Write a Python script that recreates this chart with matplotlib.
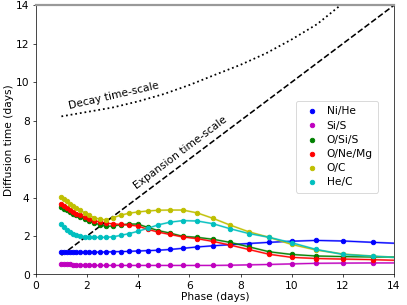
import matplotlib
matplotlib.use("Agg")
import matplotlib.pyplot as plt

# phase grid (days)
phase = [1.0, 1.1, 1.2, 1.32, 1.45, 1.58, 1.74, 1.91, 2.09, 2.29, 2.51, 2.75,
         3.02, 3.31, 3.63, 3.98, 4.37, 4.79, 5.25, 5.75, 6.31, 6.92, 7.59,
         8.32, 9.12, 10.0, 10.96, 12.02, 13.18]

# diffusion times (days) per zone
ni_he = [1.15, 1.15, 1.15, 1.15, 1.15, 1.15, 1.15, 1.15, 1.15, 1.16, 1.16, 1.17,
         1.18, 1.19, 1.20, 1.22, 1.24, 1.26, 1.30, 1.36, 1.43, 1.49, 1.55,
         1.61, 1.67, 1.73, 1.77, 1.74, 1.67]
si_s = [0.57, 0.55, 0.53, 0.52, 0.51, 0.50, 0.49, 0.48, 0.48, 0.47, 0.47, 0.47,
        0.47, 0.47, 0.47, 0.47, 0.47, 0.47, 0.47, 0.47, 0.47, 0.47, 0.48,
        0.50, 0.52, 0.55, 0.58, 0.59, 0.60]
o_si_s = [3.50, 3.42, 3.34, 3.25, 3.16, 3.07, 2.97, 2.87, 2.78, 2.68, 2.58, 2.50,
          2.52, 2.58, 2.62, 2.62, 2.45, 2.28, 2.15, 1.98, 1.93, 1.83, 1.67,
          1.44, 1.18, 1.04, 0.96, 0.93, 0.91]
o_ne_mg = [3.66, 3.55, 3.45, 3.35, 3.26, 3.17, 3.07, 2.97, 2.88, 2.80, 2.73, 2.67,
           2.63, 2.60, 2.57, 2.52, 2.35, 2.20, 2.08, 1.95, 1.86, 1.72, 1.53,
           1.30, 1.05, 0.89, 0.83, 0.80, 0.77]
o_c = [4.05, 3.92, 3.80, 3.68, 3.57, 3.46, 3.34, 3.20, 3.07, 2.95, 2.87, 2.83,
       2.95, 3.08, 3.18, 3.25, 3.30, 3.34, 3.35, 3.35, 3.20, 2.92, 2.57,
       2.22, 1.93, 1.56, 1.27, 1.06, 0.95]
he_c = [2.62, 2.45, 2.32, 2.22, 2.13, 2.06, 2.00, 1.97, 1.95, 1.93, 1.93, 1.93,
        1.96, 2.03, 2.12, 2.24, 2.40, 2.58, 2.72, 2.80, 2.78, 2.64, 2.38,
        2.13, 1.93, 1.65, 1.30, 1.04, 0.95]

# line continues past the last point to the axis edge
tail_phase = 14.45
tails = [1.60, 0.60, 0.90, 0.72, 0.86, 0.86]

labels = ['Ni/He', 'Si/S', 'O/Si/S', 'O/Ne/Mg', 'O/C', 'He/C']
colors = ['b', 'm', 'g', 'r', 'y', 'c']
series = [ni_he, si_s, o_si_s, o_ne_mg, o_c, he_c]

# time-scales
decay_t = [1, 2, 3, 4, 5, 6, 7, 8, 9, 10, 11, 12, 12.5]
decay_y = [8.22, 8.45, 8.68, 9.0, 9.38, 9.85, 10.38, 10.9, 11.5, 12.22, 13.02, 14.1, 14.7]
expansion_t = [1, 14]

fig = plt.figure(figsize=(6.4, 4.8), dpi=63.6)
ax = fig.add_axes([0.088, 0.1, 0.88, 0.882])

for ys, c, lab, tail in zip(series, colors, labels, tails):
    ax.plot(phase + [tail_phase], ys + [tail], color=c, lw=2.2, alpha=0.5)
    ax.plot(phase + [tail_phase], ys + [tail], color=c, lw=1.1)
    ax.scatter(phase, ys, color=c, s=26, label=lab, zorder=3)

ax.plot(decay_t, decay_y, 'k:', lw=2)
ax.plot(expansion_t, expansion_t, 'k--', lw=1.8)

ax.text(1.33, 8.62, 'Decay time-scale', rotation=13, fontsize=12,
        rotation_mode='anchor', ha='left', va='baseline')
ax.text(3.95, 4.45, 'Expansion time-scale', rotation=37, fontsize=12,
        rotation_mode='anchor', ha='left', va='baseline')

ax.set_xlim(0, 14)
ax.set_ylim(0, 14)
ax.set_xticks(range(0, 15, 2))
ax.set_yticks(range(0, 15, 2))
ax.tick_params(labelsize=12)
ax.set_xlabel('Phase (days)', fontsize=12, labelpad=1)
ax.set_ylabel('Diffusion time (days)', fontsize=12, labelpad=2)
ax.spines['top'].set_color('#999999')
ax.spines['top'].set_linewidth(2.5)

ax.legend(loc='upper right', bbox_to_anchor=(0.97, 0.665), fontsize=12,
          handletextpad=0.4, labelspacing=0.4, borderpad=0.5)

plt.savefig('out.png', dpi=63.6)
